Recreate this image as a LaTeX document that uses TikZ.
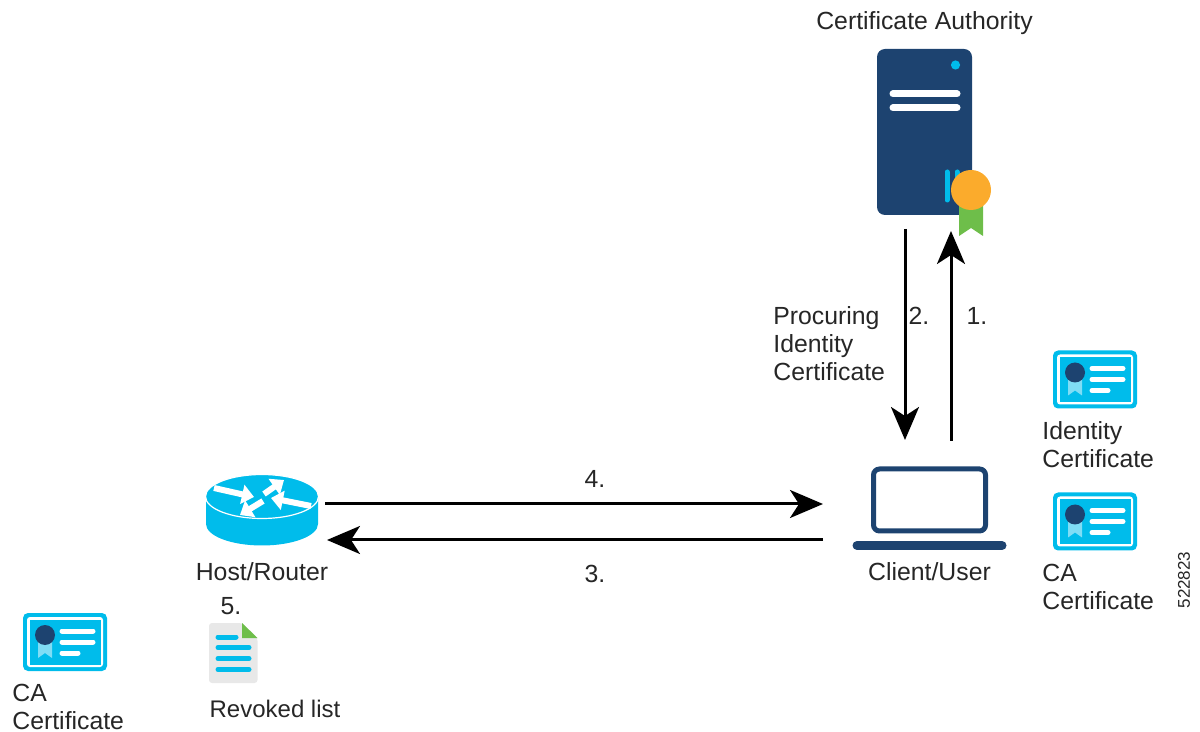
\documentclass[tikz,border=0pt]{standalone}
\usepackage{fontspec}
\setmainfont{Liberation Sans}
\usetikzlibrary{arrows.meta}
\usetikzlibrary{positioning}
\usetikzlibrary{shapes.geometric}
\definecolor{navy}{HTML}{1D4370}
\definecolor{skyblue}{HTML}{00BCEB}
\definecolor{paleblue}{HTML}{7FDDF5}
\definecolor{medal}{HTML}{FBAB2C}
\definecolor{leaf}{HTML}{6EBE4A}
\definecolor{sheet}{HTML}{E8E8E8}
\tikzset{
  lbl/.style={font=\fontsize{12.4}{14}\selectfont,inner sep=0pt,align=left,text=black!85},
  flow/.style={line width=1.5pt,-{Stealth[length=16.5pt,width=14pt,inset=4.5pt]}},
  serverbox/.style={fill=navy,rounded corners=4pt,minimum width=47.5pt,minimum height=83pt,inner sep=0pt},
  screenbox/.style={draw=navy,line width=2.5pt,rounded corners=3pt,minimum width=56pt,minimum height=31pt,inner sep=0pt},
  routertop/.style={ellipse,fill=skyblue,draw=white,line width=.6pt,minimum width=56.5pt,minimum height=22pt,inner sep=0pt},
  whitebar/.style={white,line cap=round,line width=2.5pt},
  routerarrow/.style={white,line width=3pt,-{Triangle[length=6pt,width=9.5pt]}},
  certicon/.pic={
    \fill[skyblue,rounded corners=2.5pt] (-42,-29) rectangle (42,29);
    \fill[white,rounded corners=1.5pt] (-38,-25) rectangle (38,25);
    \fill[skyblue] (-35.5,-22.5) rectangle (35.5,22.5);
    \fill[paleblue] (-27,-4) -- (-13,-4) -- (-13,16) -- (-20,11) -- (-27,16) -- cycle;
    \fill[navy] (-20,-7) circle[radius=5pt];
    \draw[whitebar] (-3,-11) -- (28,-11);
    \draw[whitebar] (-3,0) -- (28,0);
    \draw[whitebar] (-3,11) -- (13,11);
  }
}
\begin{document}
\begin{tikzpicture}[x=.5pt,y=-.5pt,on grid]
    \useasboundingbox (0,0) rectangle (1200,732);

    \node[serverbox] (ca) at (924.5,132) {};
    \fill[skyblue] (955.5,65) circle[radius=2.3pt];
    \draw[whitebar,line width=3.5pt] (893,94) -- (957,94);
    \draw[whitebar,line width=3.5pt] (893,108) -- (957,108);
    \draw[skyblue,line width=2.5pt,line cap=round] (947,172) -- (947,200);
    \draw[skyblue,line width=2.5pt,line cap=round] (957,172) -- (957,200);
    \fill[leaf] (959,200) -- (983,200) -- (983,236) -- (971,228) -- (959,236) -- cycle;
    \fill[medal] (971,190) circle[radius=10pt];
    \node[lbl,above=54.5pt of ca] (ca_lbl) {Certificate Authority};

    \node[screenbox] (client) at (929.5,500) {};
    \draw[navy,line width=4.5pt,line cap=round] (857,545.5) -- (1002,545.5);
    \node[lbl,below=36pt of client] (client_lbl) {Client/User};

    \fill[skyblue] (206,496.5) -- (206,524) arc[start angle=180,end angle=360,x radius=28pt,y radius=10.75pt] -- (318,496.5) -- cycle;
    \node[routertop] (router) at (262,496.5) {};
    \draw[routerarrow] (214,488) -- (254,497);
    \draw[routerarrow] (264,494) -- (284,480);
    \draw[routerarrow] (311,506) -- (271,498);
    \draw[routerarrow] (263,501) -- (240,515);
    \node[lbl,below=37.75pt of router] (router_lbl) {Host/Router};

    \coordinate (ca_out) at (905,229);
    \coordinate (ca_in) at (951,231);
    \coordinate (client_in) at (905,440);
    \coordinate (client_out) at (951,441);
    \coordinate (client_west_a) at (823,504);
    \coordinate (client_west_b) at (823,540);
    \coordinate (router_east_a) at (325,504);
    \coordinate (router_east_b) at (327,540);

    \draw[flow] (client_out) -- (ca_in);
    \draw[flow] (ca_out) -- (client_in);
    \draw[flow] (client_west_b) -- (router_east_b);
    \draw[flow] (router_east_a) -- (client_west_a);

    \node[lbl] (step_one) at (977,316) {1.};
    \node[lbl] (step_two) at (919,316) {2.};
    \node[lbl] (step_three) at (595,574) {3.};
    \node[lbl] (step_four) at (595,479) {4.};
    \node[lbl] (step_five) at (231,606) {5.};
    \node[lbl,anchor=west] (procure_lbl) at (773,344) {Procuring\\Identity\\Certificate};

    \pic (id_cert) at (1095,379.5) {certicon};
    \node[lbl,anchor=west] (id_lbl) at (1042,445) {Identity\\Certificate};
    \pic (client_cert) at (1095,521.5) {certicon};
    \node[lbl,anchor=west] (client_cert_lbl) at (1042,587) {CA\\Certificate};
    \pic (host_cert) at (65,642) {certicon};
    \node[lbl,anchor=west] (host_cert_lbl) at (12,707) {CA\\Certificate};

    \fill[sheet,rounded corners=1.5pt] (209,623) -- (242,623) -- (257.5,638) -- (257.5,683) -- (209,683) -- cycle;
    \fill[leaf] (242,623) -- (257.5,638) -- (242,638) -- cycle;
    \draw[skyblue,line width=2.5pt,line cap=round] (218,637) -- (236,637);
    \draw[skyblue,line width=2.5pt,line cap=round] (218,647.5) -- (249,647.5);
    \draw[skyblue,line width=2.5pt,line cap=round] (218,658.5) -- (249,658.5);
    \draw[skyblue,line width=2.5pt,line cap=round] (218,669.5) -- (249,669.5);
    \node[lbl,font=\fontsize{12}{14}\selectfont] (revoked_lbl) at (275,709) {Revoked list};

    \node[lbl,font=\fontsize{8.5}{10}\selectfont,rotate=90] (fig_id) at (1184,580) {522823};
\end{tikzpicture}
\end{document}
